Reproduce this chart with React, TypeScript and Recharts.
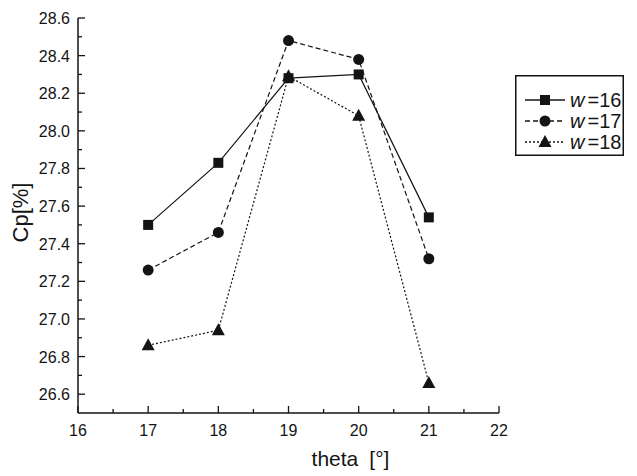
import React from "react"
import { LineChart, Line, XAxis, YAxis } from "recharts"

const thetas = [17, 18, 19, 20, 21]
const w16 = [27.5, 27.83, 28.28, 28.3, 27.54]
const w17 = [27.26, 27.46, 28.48, 28.38, 27.32]
const w18 = [26.86, 26.94, 28.29, 28.08, 26.66]

const xTicks = [16, 16.5, 17, 17.5, 18, 18.5, 19, 19.5, 20, 20.5, 21, 21.5, 22]
const yTicks = [
  26.6, 26.7, 26.8, 26.9, 27.0, 27.1, 27.2, 27.3, 27.4, 27.5, 27.6,
  27.7, 27.8, 27.9, 28.0, 28.1, 28.2, 28.3, 28.4, 28.5, 28.6,
]
const yLabelled = [26.6, 26.8, 27.0, 27.2, 27.4, 27.6, 27.8, 28.0, 28.2, 28.4, 28.6]

const series = [
  { key: "w16", label: "16", shape: "square", dash: undefined },
  { key: "w17", label: "17", shape: "circle", dash: "5 3" },
  { key: "w18", label: "18", shape: "triangle", dash: "2 2" },
]

const data = thetas.map((t, i) => ({ theta: t, w16: w16[i], w17: w17[i], w18: w18[i] }))

const INK = "#141414"
const FONT = "'Liberation Sans', Arial, sans-serif"

function Marker({ shape, cx, cy }: { shape: string; cx: number; cy: number }) {
  if (shape === "square") return <rect x={cx - 5} y={cy - 5} width={10} height={10} fill={INK} />
  if (shape === "circle") return <circle cx={cx} cy={cy} r={5.5} fill={INK} />
  return <polygon points={`${cx},${cy - 7} ${cx + 6.5},${cy + 5} ${cx - 6.5},${cy + 5}`} fill={INK} />
}

const makeDot = (shape: string) => (props: any) => {
  const { cx, cy, index } = props
  if (cx == null || cy == null) return <g key={index} />
  return <Marker key={index} shape={shape} cx={cx} cy={cy} />
}

const XTick = (props: any) => {
  const { x, y, payload } = props
  const major = Number.isInteger(payload.value)
  return (
    <g>
      <line x1={x} x2={x} y1={y} y2={y - (major ? 7 : 4)} stroke={INK} strokeWidth={1.3} />
      {major && (
        <text x={x} y={y + 23} textAnchor="middle" fontSize={16} fontFamily={FONT} fill={INK}>
          {payload.value}
        </text>
      )}
    </g>
  )
}

const YTick = (props: any) => {
  const { x, y, payload } = props
  const v = Math.round(payload.value * 10) / 10
  const major = yLabelled.some((l) => Math.abs(l - v) < 1e-6)
  return (
    <g>
      <line x1={x} x2={x + (major ? 7 : 4)} y1={y} y2={y} stroke={INK} strokeWidth={1.3} />
      {major && (
        <text x={x - 8} y={y + 6} textAnchor="end" fontSize={16} fontFamily={FONT} fill={INK}>
          {v.toFixed(1)}
        </text>
      )}
    </g>
  )
}

// the title sits right of the plot centre in the original
const XTitle = (props: any) => {
  const vb = props.viewBox || {}
  return (
    <text x={vb.x + vb.width / 2 + 62} y={466} textAnchor="middle" fontSize={21} fontFamily={FONT} fill={INK}>
      theta
      <tspan dx={11} fontWeight={300}>[°]</tspan>
    </text>
  )
}

const YTitle = (props: any) => {
  const vb = props.viewBox || {}
  const cy = vb.y + vb.height / 2 - 3
  return (
    <text
      x={28}
      y={cy}
      transform={`rotate(-90 28 ${cy})`}
      textAnchor="middle"
      fontSize={22}
      fontFamily={FONT}
      fill={INK}
    >
      Cp[%]
    </text>
  )
}

const LegendBox = () => (
  <svg width={109} height={81} style={{ display: "block" }}>
    <rect x={0.75} y={0.75} width={107.5} height={79.5} fill="#fff" stroke={INK} strokeWidth={1.5} />
    {series.map((s, i) => {
      const y = 25 + i * 21
      return (
        <g key={s.key}>
          <line x1={10} x2={50} y1={y} y2={y} stroke={INK} strokeWidth={1.3} strokeDasharray={s.dash} />
          <Marker shape={s.shape} cx={30} cy={y} />
          <text x={55} y={y + 7} fontSize={20} fontFamily={FONT} fill={INK}>
            <tspan fontStyle="italic">w</tspan>
            <tspan dx={3}>=</tspan>
            <tspan>{s.label}</tspan>
          </text>
        </g>
      )
    })}
  </svg>
)

export default function App() {
  return (
    <div style={{ position: "absolute", left: 0, top: 0, width: 637, height: 476, background: "#fff" }}>
      <LineChart width={637} height={476} data={data} margin={{ top: 18, right: 138, bottom: 0, left: 0 }}>
        <XAxis
          dataKey="theta"
          type="number"
          domain={[16, 22]}
          ticks={xTicks}
          interval={0}
          tickSize={0}
          tickMargin={0}
          height={63}
          stroke={INK}
          strokeWidth={1.5}
          tick={<XTick />}
          label={<XTitle />}
        />
        <YAxis
          type="number"
          domain={[26.5, 28.6]}
          ticks={yTicks}
          interval={0}
          tickSize={0}
          tickMargin={0}
          width={78}
          stroke={INK}
          strokeWidth={1.5}
          tick={<YTick />}
          label={<YTitle />}
        />
        {series.map((s) => (
          <Line
            key={s.key}
            dataKey={s.key}
            stroke={INK}
            strokeWidth={1.2}
            strokeDasharray={s.dash}
            dot={makeDot(s.shape)}
            activeDot={false}
            isAnimationActive={false}
            type="linear"
          />
        ))}
      </LineChart>
      <div style={{ position: "absolute", left: 515, top: 75 }}>
        <LegendBox />
      </div>
    </div>
  )
}
